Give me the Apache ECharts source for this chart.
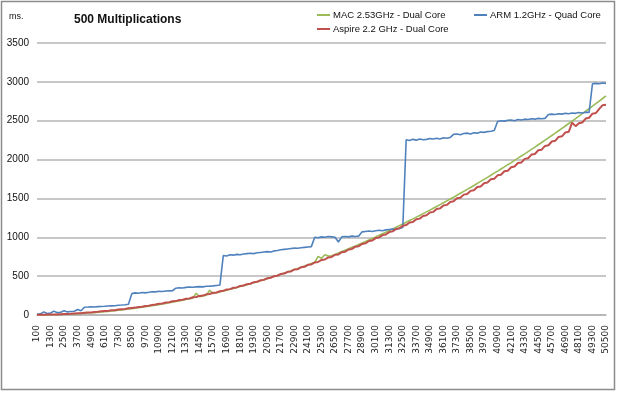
<!DOCTYPE html>
<html>
<head>
<meta charset="utf-8">
<script src="https://cdn.jsdelivr.net/npm/echarts@6/dist/echarts.min.js"></script>
<style>
  html, body { margin: 0; padding: 0; background: #fff; }
  #chart { width: 619px; height: 394px; }
</style>
</head>
<body>
<div id="chart"></div>
<script>
// categories: number of elements, 100 .. 50500 every 300
const catStart = 100, catEnd = 50500, catStep = 300;
const categories = [];
for (let c = catStart; c <= catEnd; c += catStep) categories.push(String(c));

const seriesNames = ["MAC 2.53GHz - Dual Core", "ARM 1.2GHz - Quad Core", "Aspire 2.2 GHz - Dual Core"];

// ms per run
const macValues = [
  0, 0, 1, 1, 2, 3, 5, 6, 8, 10,
  12, 14, 16, 19, 22, 25, 28, 31, 35, 39,
  43, 47, 52, 56, 61, 66, 71, 77, 82, 88,
  94, 100, 107, 113, 120, 127, 134, 141, 149, 157,
  165, 173, 181, 190, 199, 208, 217, 280, 236, 246,
  255, 318, 276, 287, 297, 308, 319, 331, 342, 354,
  366, 378, 390, 403, 416, 429, 442, 455, 468, 482,
  496, 510, 525, 539, 554, 569, 584, 599, 614, 630,
  646, 662, 678, 755, 730, 775, 760, 763, 780, 798,
  816, 834, 852, 871, 889, 908, 927, 946, 966, 986,
  1005, 1025, 1046, 1066, 1087, 1108, 1129, 1150, 1171, 1193,
  1215, 1237, 1259, 1281, 1304, 1327, 1350, 1373, 1396, 1420,
  1444, 1468, 1492, 1516, 1541, 1566, 1591, 1616, 1641, 1667,
  1693, 1719, 1745, 1771, 1798, 1825, 1852, 1879, 1906, 1934,
  1961, 1989, 2018, 2046, 2074, 2103, 2132, 2161, 2191, 2220,
  2250, 2280, 2310, 2340, 2371, 2402, 2432, 2464, 2495, 2526,
  2558, 2590, 2622, 2654, 2687, 2720, 2753, 2786, 2819
];

const armValues = [
  10, 15, 40, 20, 25, 50, 30, 35, 55, 40,
  45, 48, 70, 55, 100, 102, 105, 103, 108, 110,
  112, 115, 118, 120, 125, 128, 132, 138, 275, 285,
  280, 290, 285, 292, 300, 298, 305, 302, 308, 310,
  312, 345, 350, 348, 355, 360, 358, 362, 365, 362,
  370, 372, 375, 380, 385, 765, 760, 775, 770, 780,
  775, 785, 790, 795, 790, 800, 805, 810, 815, 810,
  825, 830, 840, 845, 850, 855, 860, 858, 865, 870,
  875, 880, 1000, 995, 1005, 1000, 1010, 1005, 1000, 940,
  1005, 1010, 1005, 1015, 1010, 1015, 1070, 1075, 1080, 1075,
  1085, 1090, 1085, 1095, 1100, 1105, 1100, 1115, 1125, 2255,
  2245, 2260, 2250, 2265, 2255, 2260, 2270, 2265, 2275, 2265,
  2280, 2275, 2285, 2325, 2330, 2320, 2335, 2340, 2330, 2345,
  2340, 2355, 2350, 2360, 2365, 2375, 2490, 2500, 2495, 2505,
  2510, 2500, 2515, 2510, 2520, 2515, 2525, 2520, 2530, 2525,
  2530, 2580, 2585, 2580, 2590, 2585, 2595, 2590, 2600, 2595,
  2605, 2600, 2610, 2605, 2975, 2980, 2975, 2985, 2980
];

const aspireValues = [
  3, 4, 3, 5, 6, 8, 7, 10, 12, 14,
  15, 19, 22, 23, 28, 32, 33, 40, 41, 47,
  52, 53, 60, 62, 70, 75, 78, 87, 91, 95,
  104, 107, 117, 120, 130, 134, 145, 148, 160, 163,
  176, 179, 192, 196, 209, 213, 228, 231, 246, 250,
  266, 270, 286, 290, 306, 311, 328, 333, 351, 355,
  374, 379, 397, 402, 422, 427, 447, 452, 474, 479,
  500, 505, 528, 533, 556, 561, 586, 590, 615, 620,
  646, 651, 677, 682, 709, 714, 741, 747, 775, 780,
  808, 815, 843, 850, 879, 886, 915, 922, 952, 960,
  990, 998, 1028, 1036, 1067, 1076, 1107, 1116, 1148, 1157,
  1190, 1198, 1232, 1240, 1275, 1283, 1319, 1327, 1363, 1372,
  1409, 1417, 1455, 1463, 1501, 1510, 1549, 1557, 1597, 1605,
  1646, 1654, 1695, 1704, 1746, 1754, 1797, 1805, 1849, 1857,
  1901, 1910, 1955, 1963, 2009, 2017, 2064, 2072, 2120, 2127,
  2176, 2184, 2233, 2241, 2291, 2299, 2349, 2357, 2475, 2430,
  2468, 2477, 2528, 2538, 2590, 2599, 2652, 2700, 2705
];

const colors = ["#9bbb59", "#4f81bd", "#c0504d"];
const sans = "'Liberation Sans', Arial, sans-serif";

const chart = echarts.init(document.getElementById("chart"));

// one legend box per entry so each sits where Excel put it
function legendAt(name, left, top) {
  return {
    data: [name],
    left: left, top: top, padding: 0,
    icon: "rect", itemWidth: 13, itemHeight: 2,
    textStyle: { fontFamily: sans, fontSize: 9.5, color: "#111", padding: [0, 0, 0, -2] }
  };
}

chart.setOption({
  animation: false,
  backgroundColor: "#fff",
  color: colors,
  title: [
    {
      text: "500 Multiplications",
      left: 74, top: 14, padding: 0,
      textStyle: { fontFamily: sans, fontSize: 12, fontWeight: "bold", color: "#111" }
    },
    {
      text: "ms.",
      left: 9, top: 12, padding: 0,
      textStyle: { fontFamily: sans, fontSize: 9, fontWeight: "normal", color: "#111" }
    }
  ],
  legend: [
    legendAt(seriesNames[0], 317, 10),
    legendAt(seriesNames[1], 474, 10),
    legendAt(seriesNames[2], 317, 24)
  ],
  graphic: [{
    type: "rect",
    shape: { x: 1.5, y: 1.5, width: 613, height: 388 },
    style: { fill: null, stroke: "#8c8c8c", lineWidth: 1.5 },
    silent: true
  }],
  grid: { left: 37, right: 13, top: 43, bottom: 79 },
  xAxis: {
    type: "category",
    data: categories,
    boundaryGap: false,
    axisLine: { lineStyle: { color: "#b4b4b4", width: 1.5 } },
    axisTick: { show: false },
    axisLabel: {
      interval: 3,
      rotate: 90,
      margin: 10,
      fontFamily: "'DejaVu Sans', Verdana, sans-serif",
      fontSize: 9,
      color: "#222"
    }
  },
  yAxis: {
    type: "value",
    min: 0, max: 3500, interval: 500,
    axisLine: { show: false },
    axisTick: { show: false },
    axisLabel: {
      margin: 8, fontFamily: sans, fontSize: 10, color: "#111",
      formatter: (v) => String(v)
    },
    splitLine: { lineStyle: { color: "#b4b4b4", width: 1.5 } }
  },
  series: [
    { name: seriesNames[0], type: "line", data: macValues, showSymbol: false, lineStyle: { width: 1.6 } },
    { name: seriesNames[1], type: "line", data: armValues, showSymbol: false, lineStyle: { width: 1.6 } },
    { name: seriesNames[2], type: "line", data: aspireValues, showSymbol: false, lineStyle: { width: 2 } }
  ]
});
</script>
</body>
</html>
